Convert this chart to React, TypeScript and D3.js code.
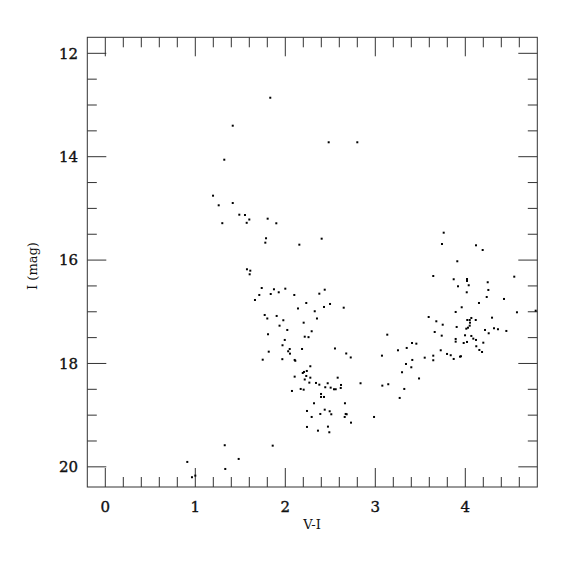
import React from 'react'
import * as d3 from 'd3'

// colour index V-I for each star
const vMinusI = [
  1.833, 1.416, 1.322, 1.197, 1.260, 1.416, 1.489, 1.552, 1.600, 1.804,
  1.900, 1.300, 1.571, 1.786, 1.778, 2.156, 2.404, 2.482, 2.800, 1.574,
  1.611, 1.604, 1.738, 1.711, 1.663, 1.838, 1.874, 1.927, 1.771, 1.800,
  1.904, 1.936, 1.808, 1.816, 1.749, 2.000, 2.100, 2.378, 2.438, 2.233,
  2.141, 2.430, 2.497, 2.649, 2.327, 1.978, 2.204, 2.352, 2.022, 2.293,
  2.216, 2.258, 1.994, 1.969, 2.049, 2.032, 2.052, 2.186, 1.967, 2.104,
  2.111, 2.552, 2.677, 2.727, 2.278, 2.239, 2.208, 2.194, 2.104, 2.233,
  2.278, 2.216, 2.582, 2.267, 2.341, 2.378, 2.471, 2.444, 2.504, 2.541,
  2.560, 2.619, 2.616, 2.836, 2.074, 2.171, 2.204, 2.397, 2.397, 2.430,
  2.319, 2.663, 2.241, 2.438, 2.493, 2.511, 2.389, 2.293, 2.671, 2.682,
  2.660, 2.730, 2.986, 2.241, 2.474, 2.363, 2.489, 1.327, 1.860, 0.911,
  1.482, 1.333, 0.963, 1.000, 3.133, 3.074, 3.252, 3.349, 3.408, 3.456,
  3.411, 3.341, 3.400, 3.297, 3.486, 3.549, 3.644, 3.644, 3.727, 3.797,
  3.838, 3.871, 3.941, 3.952, 3.593, 3.678, 3.749, 3.660, 3.738, 3.904,
  3.893, 3.893, 3.997, 3.982, 4.019, 3.960, 3.893, 4.011, 4.030, 4.049,
  4.052, 4.022, 4.049, 4.067, 4.116, 4.067, 4.089, 4.119, 4.200, 4.122,
  4.156, 4.186, 4.219, 4.260, 4.297, 4.319, 4.363, 4.456, 4.152, 4.238,
  4.256, 4.249, 4.430, 4.574, 4.544, 4.782, 3.644, 3.871, 3.919, 4.019,
  4.019, 4.038, 4.016, 3.911, 3.741, 3.760, 4.119, 4.193, 3.078, 3.144,
  3.322, 3.271,
]

// I magnitude for each star (same order)
const iMag = [
  12.859, 13.400, 14.058, 14.754, 14.940, 14.896, 15.122, 15.128, 15.215, 15.199,
  15.288, 15.286, 15.279, 15.578, 15.663, 15.702, 15.586, 13.721, 13.721, 16.178,
  16.205, 16.275, 16.540, 16.675, 16.772, 16.656, 16.565, 16.623, 17.062, 17.130,
  17.081, 17.269, 17.435, 17.772, 17.927, 16.553, 16.675, 16.650, 16.573, 16.830,
  16.936, 16.907, 16.849, 16.921, 16.990, 17.164, 17.211, 17.130, 17.352, 17.377,
  17.482, 17.491, 17.545, 17.648, 17.720, 17.764, 17.810, 17.720, 17.917, 17.932,
  17.948, 17.710, 17.807, 17.884, 18.054, 18.145, 18.164, 18.184, 18.255, 18.242,
  18.275, 18.310, 18.275, 18.371, 18.377, 18.410, 18.383, 18.460, 18.468, 18.499,
  18.499, 18.416, 18.474, 18.383, 18.532, 18.493, 18.507, 18.590, 18.648, 18.648,
  18.770, 18.770, 18.919, 18.894, 18.925, 18.983, 18.977, 19.035, 18.977, 18.983,
  19.035, 19.145, 19.035, 19.228, 19.222, 19.300, 19.331, 19.582, 19.590, 19.905,
  19.847, 20.041, 20.201, 20.170, 17.443, 17.849, 17.745, 17.700, 17.604, 17.617,
  17.932, 18.010, 18.074, 18.170, 18.290, 17.888, 17.849, 17.938, 17.745, 17.816,
  17.841, 17.913, 17.868, 17.861, 17.101, 17.184, 17.250, 17.391, 17.462, 17.294,
  17.526, 17.578, 17.455, 17.604, 17.584, 16.913, 17.004, 17.327, 17.308, 17.269,
  17.211, 17.159, 17.159, 17.120, 17.159, 17.468, 17.520, 17.545, 17.598, 17.667,
  17.739, 17.778, 17.352, 17.416, 17.114, 17.319, 17.338, 17.371, 16.830, 16.714,
  16.578, 16.429, 16.752, 17.010, 16.321, 16.979, 16.308, 16.371, 16.507, 16.366,
  16.404, 16.487, 16.623, 16.023, 15.689, 15.470, 15.714, 15.805, 18.429, 18.402,
  18.493, 18.667,
]

const xTickLabels = [0, 1, 2, 3, 4]
const yTickLabels = [12, 14, 16, 18, 20]

const W = 575
const H = 575
const left = 87.3, right = 537.3, top = 37.3, bottom = 487
const axisColor = '#333'
const font = '"DejaVu Serif", "Liberation Serif", serif'

export default function App() {
  const x = d3.scaleLinear().domain([-0.2, 4.8]).range([left, right])
  const y = d3.scaleLinear().domain([11.69, 20.39]).range([top, bottom])

  // minor ticks every 0.2 on x, 0.5 on y
  const xTicks = d3.range(0, 25).map(i => Math.round(i * 2) / 10).filter(v => v < 4.79)
  const yTicks = d3.range(24, 41).map(i => i / 2)

  const pts = vMinusI.map((v, i) => ({ v, m: iMag[i] }))

  return (
    <svg width={W} height={H} style={{ position: 'absolute', left: 0, top: 0, background: '#fff' }}>
      <rect x={left} y={top} width={right - left} height={bottom - top}
        fill="none" stroke={axisColor} strokeWidth={1} />
      {xTicks.map(t => {
        const major = Math.abs(t - Math.round(t)) < 1e-6
        const len = major ? 19 : 10
        const px = x(t)
        return (
          <g key={'x' + t}>
            <line x1={px} x2={px} y1={bottom} y2={bottom - len} stroke={axisColor} />
            <line x1={px} x2={px} y1={top} y2={top + len} stroke={axisColor} />
          </g>
        )
      })}
      {yTicks.map(t => {
        const major = t % 2 === 0
        const len = major ? 19 : 9.5
        const py = y(t)
        return (
          <g key={'y' + t}>
            <line x1={left} x2={left + len} y1={py} y2={py} stroke={axisColor} />
            <line x1={right} x2={right - len} y1={py} y2={py} stroke={axisColor} />
          </g>
        )
      })}
      {xTickLabels.map(t => (
        <text key={'xl' + t} x={x(t)} y={512} textAnchor="middle"
          fontFamily={font} fontSize={15} fill="#111" stroke="#111" strokeWidth={0.35}>{t}</text>
      ))}
      {yTickLabels.map(t => (
        <text key={'yl' + t} x={78} y={y(t)} dy="0.36em" textAnchor="end"
          fontFamily={font} fontSize={15} fill="#111" stroke="#111" strokeWidth={0.35}>{t}</text>
      ))}
      <text x={312} y={529} textAnchor="middle" fontFamily={font} fontSize={13} fill="#111">V-I</text>
      <text transform="translate(37,266) rotate(-90)" textAnchor="middle"
        fontFamily={font} fontSize={13} fill="#111">I (mag)</text>
      <g>
        {pts.map((d, i) => (
          <rect key={i} x={x(d.v) - 1} y={y(d.m) - 1} width={2} height={2} fill="#000" />
        ))}
      </g>
    </svg>
  )
}
